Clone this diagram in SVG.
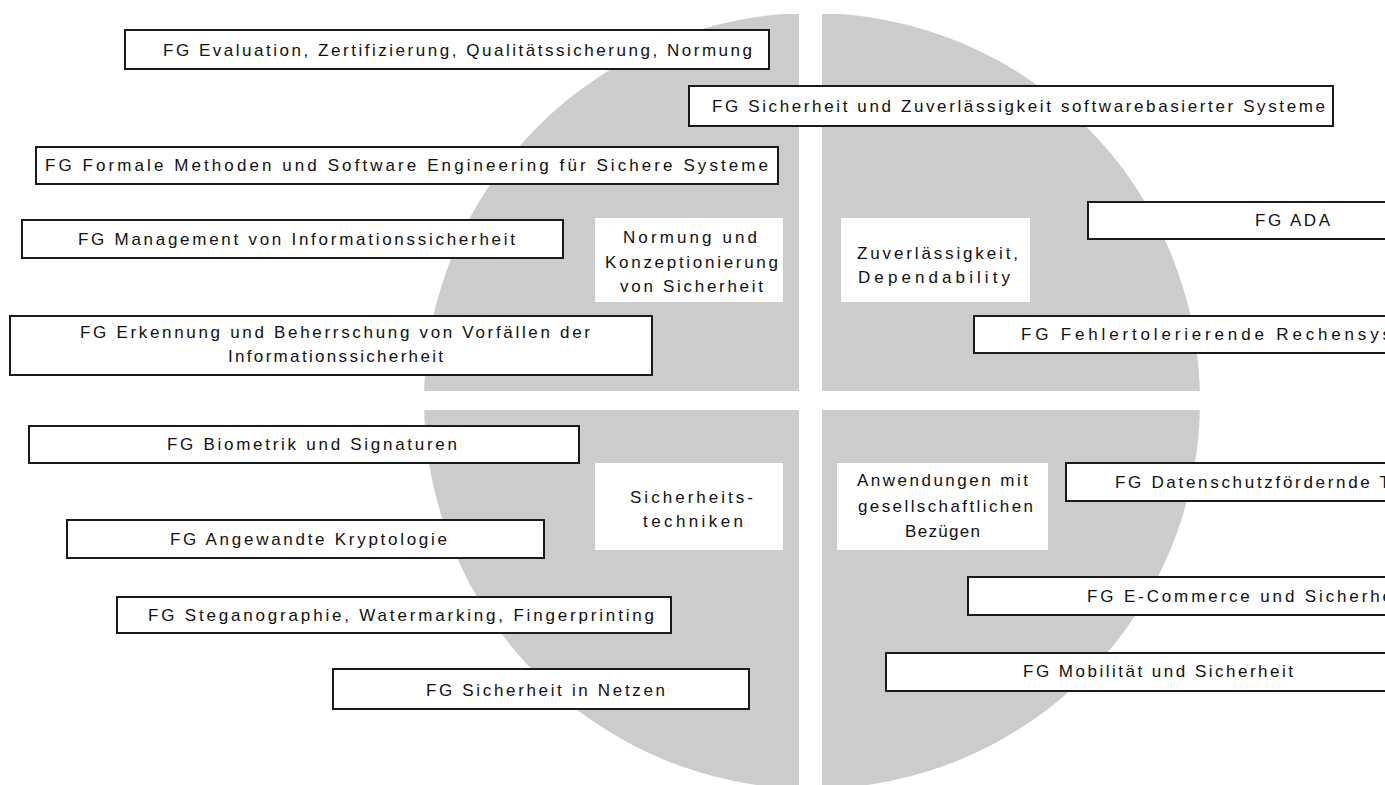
<svg xmlns="http://www.w3.org/2000/svg" width="1385" height="785" viewBox="0 0 1385 785">
<style>
  .box{fill:#fff;stroke:#1a1a1a;stroke-width:2}
  .lbl{fill:#fff}
  text{font-family:"Liberation Sans",Arial,sans-serif;font-size:17px;fill:#111}
</style>
<defs>
  <clipPath id="topclip"><rect x="0" y="14" width="1385" height="771"/></clipPath>
</defs>
<rect x="0" y="0" width="1385" height="785" fill="#fff"/>
<g id="background">
  <circle cx="812" cy="401" r="388" fill="#cccccc" clip-path="url(#topclip)"/>
  <rect x="799" y="0" width="23" height="785" fill="#fff"/>
  <rect x="0" y="391" width="1385" height="19" fill="#fff"/>
</g>
<g id="connectors"></g>
<g id="cat-normung">
  <rect class="lbl" x="595" y="218" width="188" height="84"/>
  <text x="623" y="243" textLength="134" lengthAdjust="spacing">Normung und</text>
  <text x="605" y="268" textLength="173" lengthAdjust="spacing">Konzeptionierung</text>
  <text x="620" y="292" textLength="143" lengthAdjust="spacing">von Sicherheit</text>
</g>
<g id="cat-zuverl">
  <rect class="lbl" x="841" y="218" width="189" height="84"/>
  <text x="857" y="259" textLength="161" lengthAdjust="spacing">Zuverlässigkeit,</text>
  <text x="858" y="283" textLength="152" lengthAdjust="spacing">Dependability</text>
</g>
<g id="cat-techniken">
  <rect class="lbl" x="595" y="463" width="188" height="87"/>
  <text x="630" y="503" textLength="123" lengthAdjust="spacing">Sicherheits-</text>
  <text x="643" y="527" textLength="100" lengthAdjust="spacing">techniken</text>
</g>
<g id="cat-anwendungen">
  <rect class="lbl" x="837" y="463" width="211" height="87"/>
  <text x="857" y="486" textLength="171" lengthAdjust="spacing">Anwendungen mit</text>
  <text x="858" y="512" textLength="175" lengthAdjust="spacing">gesellschaftlichen</text>
  <text x="905" y="537" textLength="75" lengthAdjust="spacing">Bezügen</text>
</g>
<g id="fg-evaluation">
  <rect class="box" x="125" y="30" width="644" height="39"/>
  <text x="163" y="56" textLength="589" lengthAdjust="spacing">FG Evaluation, Zertifizierung, Qualitätssicherung, Normung</text>
</g>
<g id="fg-sicherheit-software">
  <rect class="box" x="689" y="86" width="644" height="40"/>
  <text x="712" y="112" textLength="613" lengthAdjust="spacing">FG Sicherheit und Zuverlässigkeit softwarebasierter Systeme</text>
</g>
<g id="fg-formale">
  <rect class="box" x="36" y="147" width="742" height="37"/>
  <text x="45" y="171" textLength="723" lengthAdjust="spacing">FG Formale Methoden und Software Engineering für Sichere Systeme</text>
</g>
<g id="fg-management">
  <rect class="box" x="22" y="220" width="541" height="38"/>
  <text x="78" y="245" textLength="437" lengthAdjust="spacing">FG Management von Informationssicherheit</text>
</g>
<g id="fg-erkennung">
  <rect class="box" x="10" y="316" width="642" height="59"/>
  <text x="80" y="338" textLength="510" lengthAdjust="spacing">FG Erkennung und Beherrschung von Vorfällen der</text>
  <text x="228" y="362" textLength="215" lengthAdjust="spacing">Informationssicherheit</text>
</g>
<g id="fg-biometrik">
  <rect class="box" x="29" y="426" width="550" height="37"/>
  <text x="167" y="450" textLength="290" lengthAdjust="spacing">FG Biometrik und Signaturen</text>
</g>
<g id="fg-krypto">
  <rect class="box" x="67" y="520" width="477" height="38"/>
  <text x="170" y="545" textLength="277" lengthAdjust="spacing">FG Angewandte Kryptologie</text>
</g>
<g id="fg-stegano">
  <rect class="box" x="117" y="597" width="554" height="36"/>
  <text x="148" y="621" textLength="506" lengthAdjust="spacing">FG Steganographie, Watermarking, Fingerprinting</text>
</g>
<g id="fg-netze">
  <rect class="box" x="333" y="669" width="416" height="40"/>
  <text x="426" y="696" textLength="239" lengthAdjust="spacing">FG Sicherheit in Netzen</text>
</g>
<g id="fg-ada">
  <rect class="box" x="1088" y="202" width="400" height="37"/>
  <text x="1255" y="226" textLength="75" lengthAdjust="spacing">FG ADA</text>
</g>
<g id="fg-fehlertolerant">
  <rect class="box" x="974" y="316" width="500" height="37"/>
  <text x="1021" y="340" textLength="370" lengthAdjust="spacing">FG Fehlertolerierende Rechensys</text>
</g>
<g id="fg-datenschutz">
  <rect class="box" x="1066" y="463" width="400" height="38"/>
  <text x="1115" y="488" textLength="275" lengthAdjust="spacing">FG Datenschutzfördernde T</text>
</g>
<g id="fg-ecommerce">
  <rect class="box" x="968" y="577" width="500" height="38"/>
  <text x="1087" y="602" textLength="305" lengthAdjust="spacing">FG E-Commerce und Sicherhe</text>
</g>
<g id="fg-mobilitaet">
  <rect class="box" x="886" y="653" width="600" height="38"/>
  <text x="1023" y="677" textLength="270" lengthAdjust="spacing">FG Mobilität und Sicherheit</text>
</g>
</svg>
